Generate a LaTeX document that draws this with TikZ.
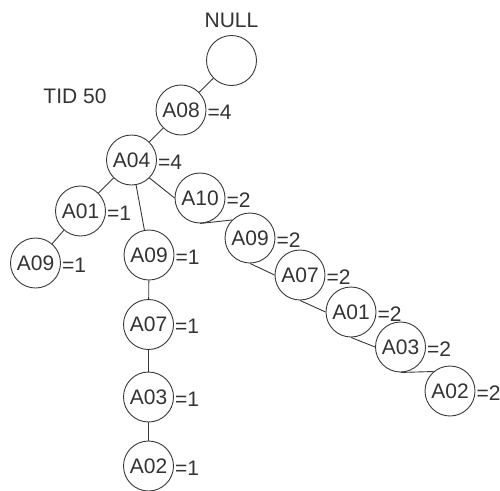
\documentclass[tikz,border=0pt]{standalone}
\usepackage{fontspec}
\setmainfont{Liberation Sans}
\begin{document}
\begin{tikzpicture}[x=1pt,y=-1pt,
  item/.style={circle,draw=black!78,line width=0.9pt,minimum size=50pt,inner sep=0pt,
    text=black!80,font=\fontsize{21}{24}\selectfont},
  cnt/.style={anchor=west,inner sep=1pt,text=black!80,font=\fontsize{21}{24}\selectfont},
  plain/.style={inner sep=0pt,text=black!80,font=\fontsize{21}{24}\selectfont},
  link/.style={draw=black!78,line width=0.9pt}]
\useasboundingbox (0,0) rectangle (500,490);

% root and headings
\node[item] (null) at (231.5,60.5) {};
\node[plain] (nulltext) at (231.5,20) {NULL};
\node[plain] (tid) at (75,96) {TID 50};

% items
\node[item] (a08) at (181,110) {A08};
\node[item] (a04) at (131.5,160) {A04};
\node[item] (a01) at (80.5,211) {A01};
\node[item] (a09l) at (35.5,263) {A09};
\node[item] (a10) at (200,198) {A10};
\node[item] (a09m) at (149,255) {A09};
\node[item] (a07m) at (148.5,324.5) {A07};
\node[item] (a03m) at (148.5,397) {A03};
\node[item] (a02m) at (148.5,466) {A02};
\node[item] (a09r) at (250,238) {A09};
\node[item] (a07r) at (300,275) {A07};
\node[item] (a01r) at (351,312) {A01};
\node[item] (a03r) at (400.5,347) {A03};
\node[item] (a02r) at (450,391) {A02};

% counts
\node[cnt] (c08) at ([yshift=-2pt]a08.east) {=4};
\node[cnt] (c04) at ([yshift=-2pt]a04.east) {=4};
\node[cnt] (c01) at ([yshift=-2pt]a01.east) {=1};
\node[cnt] (c09l) at ([yshift=-2pt]a09l.east) {=1};
\node[cnt] (c10) at ([yshift=-2pt]a10.east) {=2};
\node[cnt] (c09m) at ([yshift=-2pt]a09m.east) {=1};
\node[cnt] (c07m) at ([yshift=-2pt]a07m.east) {=1};
\node[cnt] (c03m) at ([yshift=-2pt]a03m.east) {=1};
\node[cnt] (c02m) at ([yshift=-2pt]a02m.east) {=1};
\node[cnt] (c09r) at ([yshift=-2pt]a09r.east) {=2};
\node[cnt] (c07r) at ([yshift=-2pt]a07r.east) {=2};
\node[cnt] (c01r) at ([yshift=-2pt]a01r.east) {=2};
\node[cnt] (c03r) at ([yshift=-2pt]a03r.east) {=2};
\node[cnt] (c02r) at ([yshift=-2pt]a02r.east) {=2};

% branches
\draw[link] (null) -- (a08);
\draw[link] (a08) -- (a04);
\draw[link] (a04) -- (a01);
\draw[link] (a01) -- (a09l);
\draw[link] (a04) -- (a09m);
\draw[link] (a09m) -- (a07m);
\draw[link] (a07m) -- (a03m);
\draw[link] (a03m) -- (a02m);
\draw[link] (a04.-45) -- (a10.west);
\draw[link] (a10.south) -- (a09r.135);
\draw[link] (a09r.south) -- (a07r.west);
\draw[link] (a07r.south) -- (a01r.west);
\draw[link] (a01r.south) -- (a03r.west);
\draw[link] (a03r.south) -- (a02r.130);
\end{tikzpicture}
\end{document}
